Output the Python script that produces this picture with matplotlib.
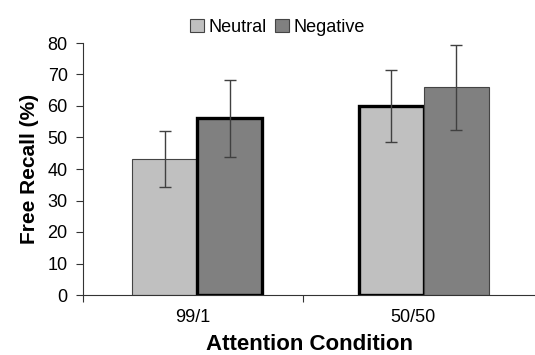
import matplotlib.pyplot as plt
import numpy as np

plt.rcParams['font.family'] = ['Liberation Sans', 'DejaVu Sans']

conditions = ['99/1', '50/50']
neutral = [43.2, 60.0]
negative = [56.1, 65.9]
neutral_err = [8.8, 11.3]
negative_err = [12.3, 13.4]
# which bars get the heavy black outline
neutral_bold = [False, True]
negative_bold = [True, False]

fig = plt.figure(figsize=(5.35, 3.55), dpi=100)
ax = fig.add_axes([83 / 535, 60 / 355, 452 / 535, 252 / 355])

x = np.arange(len(conditions))
shift = np.array([0.02, 0.05])  # bars sit a bit right of the category centre
w = 0.295

def draw(xs, vals, errs, bold, color, label):
    for i, (xi, v, e, b) in enumerate(zip(xs, vals, errs, bold)):
        ax.bar(xi, v, w, color=color,
               edgecolor='black' if b else '#444444',
               linewidth=2.4 if b else 0.8,
               label=label if i == 0 else None, zorder=2)
        ax.errorbar(xi, v, yerr=e, fmt='none', ecolor='#404040',
                    elinewidth=1.0, capsize=4, capthick=1.0, zorder=3)

draw(x + shift - w / 2, neutral, neutral_err, neutral_bold, '#c0c0c0', 'Neutral')
draw(x + shift + w / 2, negative, negative_err, negative_bold, '#808080', 'Negative')

ax.set_xlim(-0.5, 1.555)
ax.set_ylim(0, 80)
ax.set_yticks(range(0, 81, 10))
ax.set_xticks(x)
ax.set_xticklabels(conditions)
ax.set_xticks([-0.5, 0.5], minor=True)
ax.tick_params(axis='x', which='major', length=0, pad=10, labelsize=13)
ax.tick_params(axis='x', which='minor', length=5, width=0.8, color='#333333')
ax.tick_params(axis='y', length=5, width=0.8, color='#333333', labelsize=13, pad=6)

for s in ['top', 'right']:
    ax.spines[s].set_visible(False)
for s in ['left', 'bottom']:
    ax.spines[s].set_color('#333333')
    ax.spines[s].set_linewidth(0.8)

ax.set_ylabel('Free Recall (%)', fontsize=15, fontweight='bold', labelpad=6)
ax.set_xlabel('Attention Condition', fontsize=16, fontweight='bold', labelpad=6)

leg = ax.legend(loc='lower center', bbox_to_anchor=(0.43, 1.0), ncol=2, frameon=False,
                fontsize=13, handlelength=0.75, handleheight=0.75, handletextpad=0.25,
                columnspacing=0.5, borderaxespad=0.0)
for h in leg.legend_handles:
    h.set_linewidth(0.8)
    h.set_edgecolor('#444444')

fig.savefig('out.png', dpi=100)
